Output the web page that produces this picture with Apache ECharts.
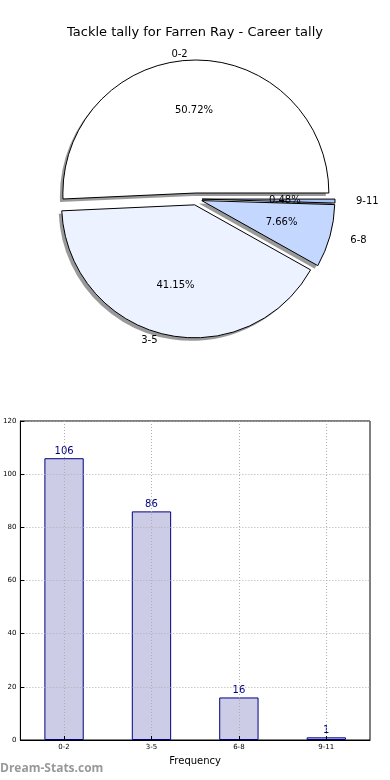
<!DOCTYPE html>
<html>
<head>
<meta charset="utf-8">
<script src="https://cdn.jsdelivr.net/npm/echarts@6/dist/echarts.min.js"></script>
<style>html,body{margin:0;padding:0;background:#fff}#c{width:390px;height:780px}</style>
</head>
<body>
<div id="c"></div>
<script>
const categories = ['0-2', '3-5', '6-8', '9-11'];
const tallies = [106, 86, 16, 1];
const pieColors = ['#ffffff', '#ecf2ff', '#c4d7ff', '#a9c1f9'];
const titleText = 'Tackle tally for Farren Ray - Career tally';

const total = tallies.reduce((a, b) => a + b, 0);
const R = 133;
const pieCenter = [196, 199];
const font = 'DejaVu Sans';
const outerLineLen = [6, 6, 16, 16];

const chart = echarts.init(document.getElementById('c'), null, { renderer: 'canvas' });
chart.setOption({
  animation: false,
  title: {
    text: titleText, left: 'center', top: 21,
    textStyle: { fontFamily: font, fontSize: 13, fontWeight: 'normal', color: '#000' }
  },
  grid: {
    left: 19, right: 20, top: 421, bottom: 40,
    show: true, borderColor: '#000', borderWidth: 1, backgroundColor: 'transparent'
  },
  xAxis: {
    type: 'category', data: categories, z: 5,
    name: 'Frequency', nameLocation: 'middle', nameGap: 16,
    nameTextStyle: { fontFamily: font, fontSize: 10, color: '#000' },
    axisLine: { lineStyle: { color: '#000' } },
    axisTick: { show: true, alignWithLabel: true, inside: true, length: 4, lineStyle: { color: '#000' } },
    axisLabel: { fontFamily: font, fontSize: 7, color: '#000', margin: 4 },
    splitLine: { show: true, alignWithLabel: true, lineStyle: { color: '#b0b0b0', type: [1, 2], width: 1 } }
  },
  yAxis: {
    type: 'value', min: 0, max: 120, interval: 20, z: 5,
    axisLine: { show: true, lineStyle: { color: '#000' } },
    axisTick: { show: true, inside: true, length: 4, lineStyle: { color: '#000' } },
    axisLabel: { fontFamily: font, fontSize: 7, color: '#000', margin: 4 },
    splitLine: { show: true, lineStyle: { color: '#b0b0b0', type: [1, 2], width: 1 } }
  },
  graphic: [{
    type: 'text', left: 0, top: 763,
    style: { text: 'Dream-Stats.com', fill: '#999', font: 'bold 12px "Open Sans"' }
  }],
  series: [
    {
      type: 'bar', data: tallies, barWidth: '45%', z: 2,
      itemStyle: { color: '#ccccE6', borderColor: '#000080', borderWidth: 1 },
      label: { show: true, position: 'top', distance: 2, color: '#000080', fontFamily: font, fontSize: 10 }
    },
    {
      type: 'pie', center: [pieCenter[0] - 3, pieCenter[1] + 3], radius: [0, R],
      startAngle: 0, clockwise: false,
      selectedMode: 'multiple', selectedOffset: 6,
      silent: true, z: 1,
      data: categories.map((c, i) => ({ name: c, value: tallies[i], selected: true })),
      itemStyle: { color: 'rgba(0,0,0,0.4)', borderWidth: 0 },
      label: { show: false }, labelLine: { show: false },
      emphasis: { disabled: true }
    },
    {
      type: 'pie', center: pieCenter, radius: [0, R],
      startAngle: 0, clockwise: false,
      selectedMode: 'multiple', selectedOffset: 6,
      avoidLabelOverlap: false, silent: true, z: 2,
      data: categories.map((c, i) => ({
        name: c, value: tallies[i], selected: true,
        itemStyle: { color: pieColors[i] },
        labelLine: { show: false, length: outerLineLen[i], length2: 0 }
      })),
      itemStyle: { borderColor: '#000', borderWidth: 1 },
      label: { show: true, position: 'outside', fontFamily: font, fontSize: 10, color: '#000', formatter: '{b}' },
      labelLine: { show: false, length: 10, length2: 0 },
      emphasis: { disabled: true }
    },
    {
      type: 'pie', center: pieCenter, radius: [0, R * 1.2],
      startAngle: 0, clockwise: false,
      selectedMode: 'multiple', selectedOffset: 6,
      avoidLabelOverlap: false, silent: true, z: 3,
      data: categories.map((c, i) => ({ name: c, value: tallies[i], selected: true })),
      itemStyle: { color: 'transparent', borderWidth: 0 },
      label: {
        show: true, position: 'inside', fontFamily: font, fontSize: 10, color: '#000',
        formatter: p => (p.value / total * 100).toFixed(2) + '%'
      },
      labelLine: { show: false },
      emphasis: { disabled: true }
    }
  ]
});
</script>
</body>
</html>
